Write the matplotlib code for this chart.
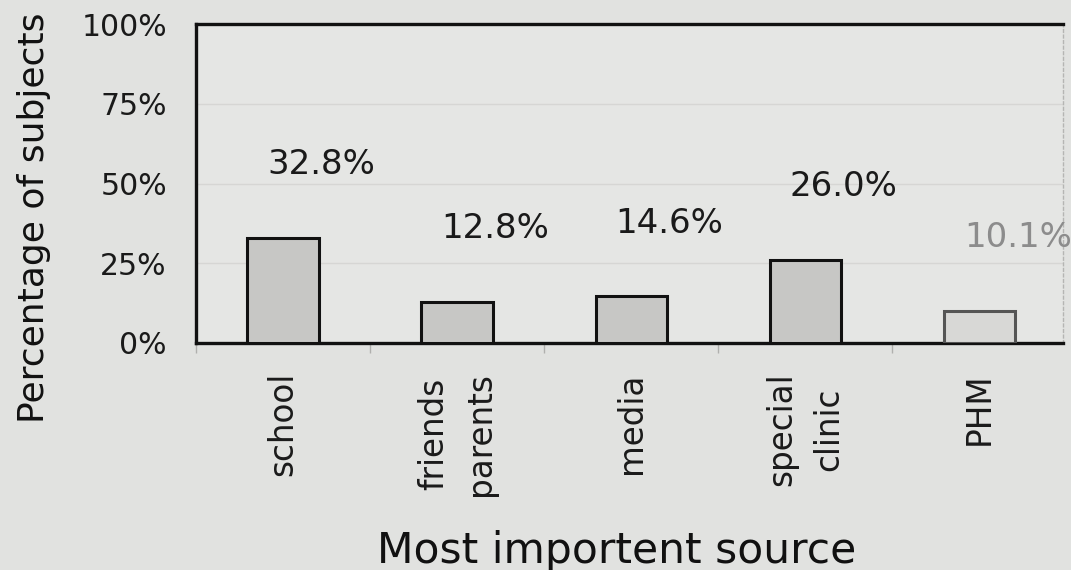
import matplotlib
matplotlib.use("Agg")
import matplotlib.pyplot as plt
import numpy as np

categories = ["school", "friends\nparents", "media", "special\nclinic", "PHM"]
values = [32.8, 12.8, 14.6, 26.0, 10.1]
value_labels = ["32.8%", "12.8%", "14.6%", "26.0%", "10.1%"]
yticks = [0, 25, 50, 75, 100]
ytick_labels = ["0%", "25%", "50%", "75%", "100%"]

plt.rcParams['font.family'] = ['DejaVu Sans']

W, H = 1071, 570
fig = plt.figure(figsize=(W / 100, H / 100), dpi=100, facecolor='#e1e2e0')
ax = fig.add_axes([196 / W, 1 - 343 / H, (1063 - 196) / W, (343 - 24) / H])
ax.set_facecolor('#e5e6e4')

x = np.arange(len(categories))
face = ['#c7c7c5'] * 4 + ['#d8d8d6']
edge = ['#111111'] * 4 + ['#555555']
ax.bar(x, values, width=0.41, color=face, edgecolor=edge, linewidth=2.2, zorder=3)

for i, (v, lab) in enumerate(zip(values, value_labels)):
    col = '#1a1a1a' if i < 4 else '#8c8c8c'
    ax.text(i + 0.22, v + 23, lab, ha='center', va='center', fontsize=24.5,
            color=col, zorder=4)

ax.set_xlim(-0.5, 4.48)
ax.set_ylim(0, 100)
ax.set_yticks(yticks)
ax.set_yticklabels(ytick_labels, fontsize=21.5)
ax.tick_params(axis='y', length=0, pad=21, colors='#1a1a1a')
ax.set_xticks(x)
ax.set_xticklabels(categories, rotation=90, fontsize=23.5, va='top', ha='center',
                   linespacing=1.55, multialignment='center')
ax.tick_params(axis='x', length=0, pad=21, colors='#1a1a1a')
ax.set_xticks(np.arange(len(categories)) - 0.5, minor=True)
ax.tick_params(axis='x', which='minor', length=7, color='#b0b0ae', width=1,
               direction='out')

ax.grid(axis='y', color='#d6d6d4', linewidth=1, zorder=0)

for s in ['left', 'bottom', 'top']:
    ax.spines[s].set_color('#111111')
    ax.spines[s].set_linewidth(2.4)
ax.spines['right'].set_color('#b5b5b3')
ax.spines['right'].set_linewidth(1)
ax.spines['right'].set_linestyle((0, (2, 2)))

fig.text(617 / W, 1 - 563 / H, "Most importent source", ha='center', va='baseline',
         fontsize=30.5, color='#111111')
fig.text(34 / W, 1 - 218 / H, "Percentage of subjects", ha='center', va='center',
         rotation=90, fontsize=26, color='#111111')

fig.savefig("out.png", dpi=100, facecolor=fig.get_facecolor())
